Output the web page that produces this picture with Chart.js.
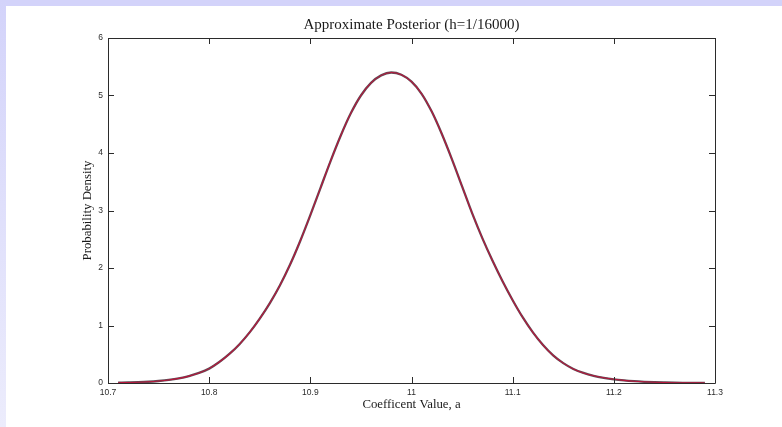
<!DOCTYPE html>
<html>
<head>
<meta charset="utf-8">
<script src="https://cdn.jsdelivr.net/npm/chart.js@4.4.1/dist/chart.umd.min.js"></script>
<style>
    html, body { margin: 0; padding: 0; background: #ffffff; overflow: hidden; }
    #stage { position: relative; width: 782px; height: 427px; }
    .band-top { position: absolute; left: 0; top: 0; width: 782px; height: 6px; background: #d3d3fa; }
    .band-left { position: absolute; left: 0; top: 0; width: 6px; height: 427px; background: linear-gradient(#d3d3fa, #ececfc); }
    canvas { position: absolute; left: 0; top: 0; }
</style>
</head>
<body>
<div id="stage">
    <div class="band-top"></div>
    <div class="band-left"></div>
    <canvas id="chart" width="782" height="427"></canvas>
</div>
<script>
// values
const xValues = [
    10.71, 10.72, 10.73, 10.74, 10.75, 10.76, 10.77, 10.78, 10.79, 10.80,
    10.81, 10.82, 10.83, 10.84, 10.85, 10.86, 10.87, 10.88, 10.89, 10.90,
    10.91, 10.92, 10.93, 10.94, 10.95, 10.96, 10.97, 10.98, 10.99, 11.00,
    11.01, 11.02, 11.03, 11.04, 11.05, 11.06, 11.07, 11.08, 11.09, 11.10,
    11.11, 11.12, 11.13, 11.14, 11.15, 11.16, 11.17, 11.18, 11.19, 11.20,
    11.21, 11.22, 11.23, 11.24, 11.25, 11.26, 11.27, 11.28, 11.29
]
const density = [
    0.005, 0.009, 0.014, 0.022, 0.035, 0.053, 0.08, 0.12, 0.175, 0.25,
    0.365, 0.505, 0.675, 0.88, 1.12, 1.39, 1.70, 2.06, 2.47, 2.92,
    3.39, 3.86, 4.30, 4.69, 5.00, 5.22, 5.35, 5.40, 5.36, 5.24,
    5.03, 4.72, 4.33, 3.89, 3.42, 2.95, 2.52, 2.13, 1.77, 1.44,
    1.14, 0.88, 0.66, 0.48, 0.345, 0.245, 0.175, 0.125, 0.09, 0.064,
    0.045, 0.031, 0.021, 0.014, 0.009, 0.005, 0.003, 0.002, 0.001
]
const xTicks = [10.7, 10.8, 10.9, 11.0, 11.1, 11.2, 11.3]
const xTickLabels = ['10.7', '10.8', '10.9', '11', '11.1', '11.2', '11.3']
const yTicks = [0, 1, 2, 3, 4, 5, 6]

const points = xValues.map((x, i) => ({x: x, y: density[i]}))

// matlab style box with ticks pointing inwards
const boxPlugin = {
    id: 'box',
    afterDraw(chart) {
        const {ctx, chartArea: a, scales} = chart
        const len = 6
        ctx.save()
        ctx.strokeStyle = '#2b2b2b'
        ctx.lineWidth = 1
        ctx.beginPath()
        ctx.rect(Math.round(a.left) + 0.5, Math.round(a.top) + 0.5,
            Math.round(a.right - a.left), Math.round(a.bottom - a.top))
        xTicks.forEach((v) => {
            const px = Math.round(scales.x.getPixelForValue(v)) + 0.5
            ctx.moveTo(px, a.bottom)
            ctx.lineTo(px, a.bottom - len)
            ctx.moveTo(px, a.top)
            ctx.lineTo(px, a.top + len)
        })
        yTicks.forEach((v) => {
            const py = Math.round(scales.y.getPixelForValue(v)) + 0.5
            ctx.moveTo(a.left, py)
            ctx.lineTo(a.left + len, py)
            ctx.moveTo(a.right, py)
            ctx.lineTo(a.right - len, py)
        })
        ctx.stroke()
        ctx.restore()
    }
}

const tickFont = {family: '"Liberation Sans", Arial, sans-serif', size: 8.5}
const serif = '"Liberation Serif", "DejaVu Serif", serif'

new Chart(document.getElementById('chart'), {
    type: 'line',
    data: {
        datasets: [{
            label: 'approximate',
            data: points,
            borderColor: '#b8163c',
            borderWidth: 1.1,
            pointRadius: 0,
            cubicInterpolationMode: 'monotone'
        }, {
            label: 'exact',
            data: points,
            borderColor: 'rgba(85,70,78,0.95)',
            borderWidth: 2.3,
            pointRadius: 0,
            cubicInterpolationMode: 'monotone'
        }]
    },
    options: {
        responsive: false,
        animation: false,
        devicePixelRatio: 1,
        layout: {padding: {left: 0, right: 67, top: 0, bottom: 0}},
        plugins: {
            legend: {display: false},
            tooltip: {enabled: false},
            title: {
                display: true,
                fullSize: false,
                text: 'Approximate Posterior (h=1/16000)',
                color: '#1a1a1a',
                font: {family: serif, size: 15, weight: 'normal'},
                padding: {top: 16, bottom: 4}
            }
        },
        scales: {
            x: {
                type: 'linear',
                min: 10.7,
                max: 11.3,
                afterBuildTicks: (scale) => {
                    scale.ticks = xTicks.map((v) => ({value: v}))
                },
                afterFit: (scale) => {
                    scale.height = 44
                },
                grid: {display: false, drawTicks: false},
                border: {display: false},
                ticks: {
                    color: '#2b2b2b',
                    font: tickFont,
                    padding: 5,
                    maxRotation: 0,
                    callback: (value, index) => xTickLabels[index]
                },
                title: {
                    display: true,
                    text: 'Coefficent Value, a',
                    color: '#1a1a1a',
                    font: {family: serif, size: 12.8},
                    padding: {top: 0, bottom: 14.3}
                }
            },
            y: {
                min: 0,
                max: 6,
                afterBuildTicks: (scale) => {
                    scale.ticks = yTicks.map((v) => ({value: v}))
                },
                afterFit: (scale) => {
                    scale.width = 108
                },
                grid: {display: false, drawTicks: false},
                border: {display: false},
                ticks: {
                    color: '#2b2b2b',
                    font: tickFont,
                    padding: 5
                },
                title: {
                    display: true,
                    text: 'Probability Density',
                    color: '#1a1a1a',
                    font: {family: serif, size: 12.8},
                    padding: {top: 80.3, bottom: 0}
                }
            }
        }
    },
    plugins: [boxPlugin]
})
</script>
</body>
</html>
